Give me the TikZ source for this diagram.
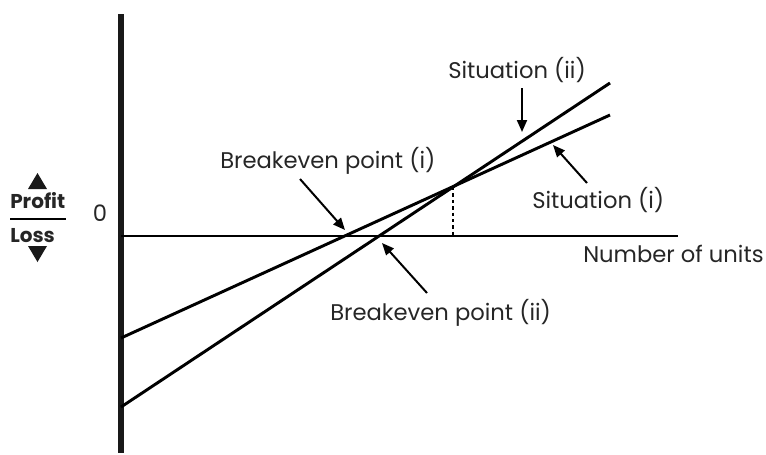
\documentclass[tikz,border=0pt]{standalone}
\usepackage{fontspec}
\setmainfont{Poppins}
\usetikzlibrary{arrows.meta}
\tikzset{
  lbl/.style={inner sep=0pt, anchor=base west, font=\fontsize{17}{19}\selectfont, text=black!85},
  curve/.style={line width=2.2pt, line cap=butt},
  pointer/.style={line width=1.5pt, -{Triangle[length=9pt,width=7.5pt]}},
  tri/.style={fill=black!90, draw=none}
}
\begin{document}
\begin{tikzpicture}[x=0.75pt,y=-0.75pt]
\useasboundingbox (0,0) rectangle (766,454);
% axes
\coordinate (ytop) at (121,14);
\coordinate (ybot) at (121,453);
\coordinate (o) at (121,236);
\coordinate (xend) at (678,236);
\draw[line width=3.8pt, black!90] (ytop) -- (ybot);
\draw[curve] (o) -- (xend);
% lines
\coordinate (i0) at (121,338);
\coordinate (i1) at (610,115);
\coordinate (ii0) at (121,407);
\coordinate (ii1) at (610,83);
\draw[curve] (i0) -- (i1);
\draw[curve] (ii0) -- (ii1);
\coordinate (cross) at (453,187);
\coordinate (crossfoot) at (453,236);
\draw[line width=1.4pt, dash pattern=on 2.6pt off 2.2pt] (cross) -- (crossfoot);
% labels
\node[lbl] (bei) at (220,168) {Breakeven point (i)};
\node[lbl] (beii) at (330,320) {Breakeven point (ii)};
\node[lbl] (sii) at (448,78) {Situation (ii)};
\node[lbl] (si) at (532,208) {Situation (i)};
\node[lbl] (nu) at (583,262) {Number of units};
\node[lbl, anchor=base] (zero) at (100,221) {0};
% pointers
\coordinate (bei0) at (300,179); \coordinate (bei1) at (345,230);
\coordinate (beii0) at (427,293); \coordinate (beii1) at (382,243);
\coordinate (sii0) at (522,88); \coordinate (sii1) at (522,132);
\coordinate (si0) at (587,183); \coordinate (si1) at (553,145);
\draw[pointer] (bei0) -- (bei1);
\draw[pointer] (beii0) -- (beii1);
\draw[pointer] (sii0) -- (sii1);
\draw[pointer] (si0) -- (si1);
% profit / loss
\node[lbl, font=\fontsize{15}{17}\selectfont\bfseries] (profit) at (10,208) {Profit};
\node[lbl, font=\fontsize{15}{17}\selectfont\bfseries] (loss) at (10,242) {Loss};
\coordinate (r0) at (10,219); \coordinate (r1) at (66,219);
\draw[line width=1.3pt] (r0) -- (r1);
\fill[tri] (28,189) -- (47,189) -- (37.5,173) -- cycle;
\fill[tri] (28,246) -- (47,246) -- (37.5,262) -- cycle;
\end{tikzpicture}
\end{document}
